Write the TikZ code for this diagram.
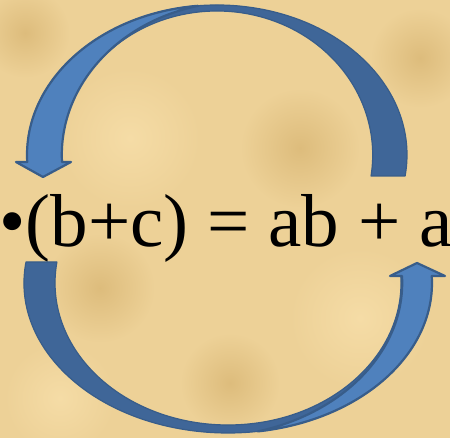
\documentclass[tikz,border=0pt]{standalone}
\usepackage{fontspec}
\setmainfont{Liberation Serif}
\usepackage{tikz}
\definecolor{papyrus}{HTML}{EDD197}
\definecolor{papyrusdark}{HTML}{DDBC7C}
\definecolor{papyruslight}{HTML}{F5DCA6}
\definecolor{arrowfront}{HTML}{4F81BD}
\definecolor{arrowback}{HTML}{3F6698}
\definecolor{arrowline}{HTML}{385D8A}

\begin{document}
\begin{tikzpicture}[x=1pt, y=1pt, line join=round,
  front/.style={fill=arrowfront, draw=arrowline, line width=2.2pt},
  back/.style={fill=arrowback, draw=arrowline, line width=1.2pt},
  blob/.style={outer color=papyrus}]
%
\useasboundingbox (0,0) rectangle (450,438);
\clip (0,0) rectangle (450,438);
\fill[papyrus] (0,0) rectangle (450,438);
\shade[blob, inner color=papyrusdark] (25,405) circle (45);
\shade[blob, inner color=papyruslight] (130,300) circle (70);
\shade[blob, inner color=papyrusdark] (300,290) circle (60);
\shade[blob, inner color=papyrusdark] (100,150) circle (55);
\shade[blob, inner color=papyruslight] (360,120) circle (70);
\shade[blob, inner color=papyrusdark] (230,55) circle (50);
\shade[blob, inner color=papyruslight] (60,40) circle (55);
\shade[blob, inner color=papyrusdark] (420,380) circle (50);
%
\node (EQ) [anchor=base, inner sep=0pt, font=\fontsize{75}{90}\selectfont] at (226,191) {a•(b+c) = ab + ac};
%
\path[back] (405.1,262) arc[start angle=-8.05, end angle=182.67, x radius=190, y radius=150]
  -- (61.5,276) arc[start angle=182.79, end angle=-8.39, x radius=155.7, y radius=144] -- cycle;
\path[front] (198,432.2) arc[start angle=95.74, end angle=182.67, x radius=190, y radius=150]
  -- (16,276) -- (43,261) -- (71,276) -- (62,276)
  arc[start angle=182.61, end angle=103.63, x radius=178.2, y radius=153.5] -- cycle;
%
\path[back] (26,176) arc[start angle=171.95, end angle=362.67, x radius=204, y radius=150]
  -- (400.8,162) arc[start angle=362.83, end angle=171.49, x radius=173, y radius=142] -- cycle;
\path[front] (258,6.6) arc[start angle=278.46, end angle=362.67, x radius=204, y radius=150]
  -- (445,162) -- (417,175) -- (390,162) -- (402,162)
  arc[start angle=2.6, end angle=-74.41, x radius=197.2, y radius=154.1] -- cycle;
\end{tikzpicture}
\end{document}
